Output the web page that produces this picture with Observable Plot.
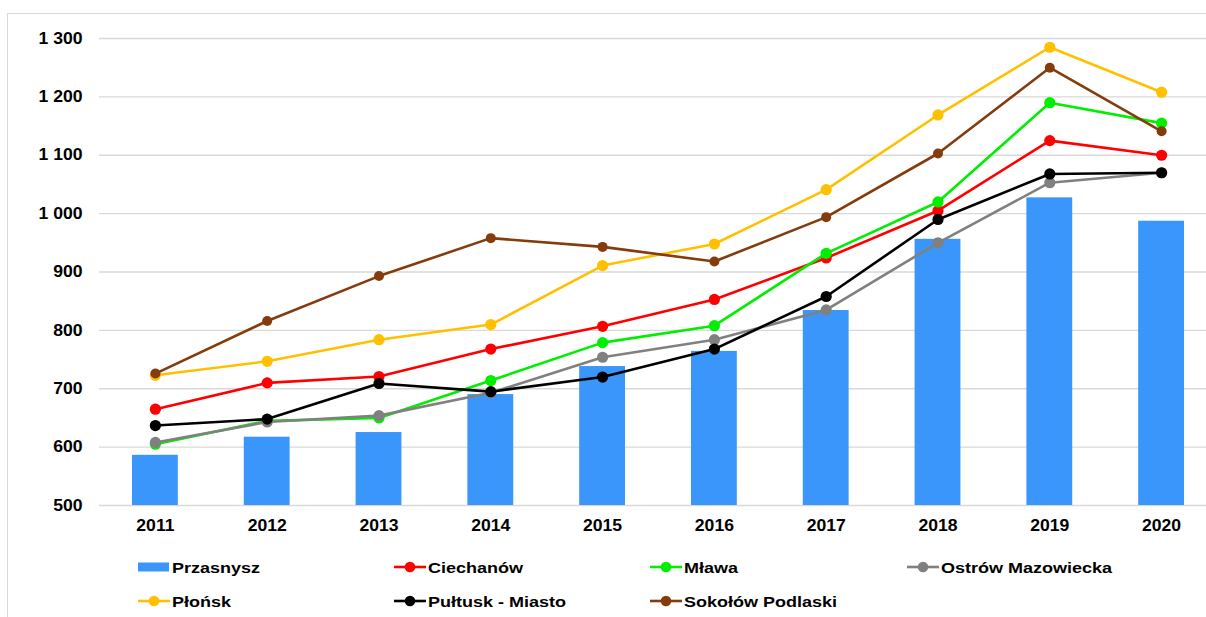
<!DOCTYPE html>
<html><head><meta charset="utf-8">
<script src="https://cdn.jsdelivr.net/npm/d3@7"></script>
<script src="https://cdn.jsdelivr.net/npm/@observablehq/plot@0.6"></script>
<style>
html,body{margin:0;padding:0;background:#fff;overflow:hidden;}
#wrap{position:relative;width:1206px;height:617px;font-family:"Liberation Sans",Arial,sans-serif;font-weight:bold;color:#000;overflow:hidden;}
#frame{position:absolute;left:7px;top:13px;width:1199px;height:604px;border-left:1px solid #d9d9d9;border-top:1px solid #d9d9d9;box-sizing:border-box;}
#chart{position:absolute;left:0;top:0;}
.leg{position:absolute;height:20px;display:flex;align-items:center;white-space:nowrap;}
.leg span{display:inline-block;font-size:15px;transform:scaleX(1.2);transform-origin:left center;margin-left:2px;}
.leg svg{display:block;}
</style></head>
<body><div id="wrap"><div id="frame"></div><div id="chart"></div><div id="legend"></div></div>
<script>
// ---- data ----
const years = ["2011","2012","2013","2014","2015","2016","2017","2018","2019","2020"];
const przasnysz = [586, 617, 625, 690, 738, 764, 834, 956, 1027, 987];
const ciechanow = [665, 710, 721, 768, 807, 853, 924, 1005, 1125, 1100];
const mlawa     = [605, 645, 650, 714, 779, 808, 932, 1020, 1190, 1155];
const ostrow    = [608, 643, 654, 693, 754, 784, 835, 950, 1053, 1070];
const plonsk    = [723, 747, 784, 810, 911, 948, 1041, 1169, 1285, 1208];
const pultusk   = [637, 648, 709, 695, 720, 768, 858, 990, 1068, 1070];
const sokolow   = [726, 816, 893, 958, 943, 918, 994, 1103, 1250, 1141];
const barName = "Przasnysz";
const lineNames = ["Ciechanów","Mława","Ostrów Mazowiecka","Płońsk","Pułtusk - Miasto","Sokołów Podlaski"];
const lineValues = [ciechanow, mlawa, ostrow, plonsk, pultusk, sokolow];
const yTicks = [500,600,700,800,900,1000,1100,1200,1300];
const yDomain = [500,1300];
// ---- styles ----
const barColor = "#3a96fa";
const lineColors = ["#ff0000","#00ee00","#808080","#ffc000","#000000","#843c0c"];
const legendOrder = [barName, "Ciechanów","Mława","Ostrów Mazowiecka","Płońsk","Pułtusk - Miasto","Sokołów Podlaski"];

const bars = years.map((y,i)=>({year:y, value:przasnysz[i]}));
const fmt = d => String(d).replace(/\B(?=(\d{3})+(?!\d))/g, " ");

const marks = [
  Plot.ruleY(yTicks, {stroke:"#d9d9d9", strokeWidth:1.3}),
  Plot.barY(bars, {x:"year", y1: yDomain[0], y2:"value", fill: barColor})
];
lineNames.forEach((name, s) => {
  const d = years.map((y,i)=>({year:y, value:lineValues[s][i]}));
  marks.push(Plot.line(d, {x:"year", y:"value", stroke: lineColors[s], strokeWidth:2.6}));
  marks.push(Plot.dot(d, {x:"year", y:"value", fill: lineColors[s], r: s===5 ? 5 : 5.6, stroke:"none"}));
});

const chart = Plot.plot({
  width: 1206, height: 540,
  marginTop: 38, marginBottom: 35, marginLeft: 99, marginRight: 0,
  style:{fontFamily:'"Liberation Sans", Arial, sans-serif', fontSize:"16px", fontWeight:"bold", color:"#000", background:"transparent", overflow:"visible"},
  x:{type:"band", domain: years, range:[99,1217], round:false, paddingInner:0.59, paddingOuter:0.295, tickSize:0, tickPadding:14, label:null},
  y:{domain: yDomain, ticks: yTicks, tickSize:0, tickPadding:17, tickFormat: fmt, label:null},
  marks
});
document.getElementById("chart").appendChild(chart);

// widen axis text horizontally around its anchor (reference text is horizontally stretched)
chart.querySelectorAll("text").forEach(t => {
  const b = t.getBBox();
  const anchor = getComputedStyle(t).textAnchor || t.getAttribute("text-anchor");
  const ax = anchor === "end" ? b.x + b.width : anchor === "start" ? b.x : b.x + b.width/2;
  const tr = t.getAttribute("transform") || "";
  t.setAttribute("transform", `${tr} translate(${ax},0) scale(1.1,1) translate(${-ax},0)`);
});

// ---- legend ----
const colLeft = [138, 394, 650, 907];
const rowTop = [557, 591];
const leg = document.getElementById("legend");
legendOrder.forEach((name, i) => {
  const row = Math.floor(i/4), col = i%4;
  const div = document.createElement("div");
  div.className = "leg";
  div.style.left = colLeft[col] + "px";
  div.style.top = rowTop[row] + "px";
  let sw;
  if (name === barName) {
    sw = `<svg width="32" height="14"><rect x="0" y="2.5" width="31" height="9" fill="${barColor}"/></svg>`;
  } else {
    const c = lineColors[lineNames.indexOf(name)];
    sw = `<svg width="32" height="14"><line x1="0" x2="32" y1="7" y2="7" stroke="${c}" stroke-width="2.6"/><circle cx="16" cy="7" r="5.3" fill="${c}"/></svg>`;
  }
  div.innerHTML = sw + `<span>${name}</span>`;
  leg.appendChild(div);
});
</script></body></html>
